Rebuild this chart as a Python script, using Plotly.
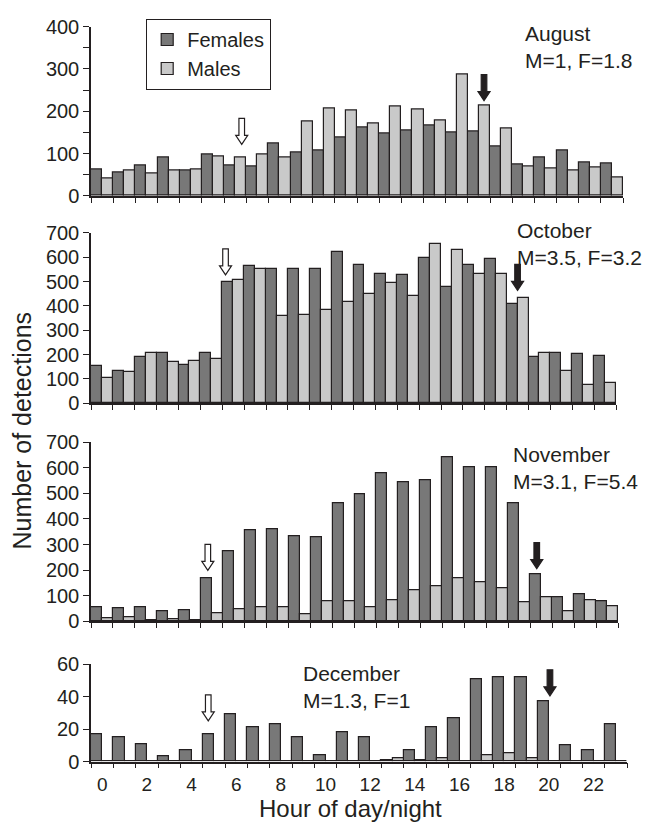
import plotly.graph_objects as go
from plotly.subplots import make_subplots

# Hourly detection counts (hour 0-23) per month
hours = list(range(24))

aug_females = [63, 55, 72, 91, 61, 97, 72, 70, 123, 103, 107, 137, 162, 148, 154, 167, 150, 152, 116, 74, 91, 107, 78, 76]
aug_males = [40, 61, 54, 59, 63, 94, 90, 97, 91, 175, 207, 202, 172, 210, 204, 179, 287, 213, 158, 70, 65, 59, 67, 44]

oct_females = [154, 131, 190, 205, 157, 205, 499, 566, 553, 553, 553, 620, 569, 530, 526, 597, 479, 570, 592, 408, 189, 205, 202, 194]
oct_males = [104, 130, 207, 171, 174, 183, 506, 553, 359, 365, 384, 415, 448, 493, 440, 653, 632, 533, 530, 432, 205, 135, 76, 83]

nov_females = [56, 51, 56, 38, 43, 167, 274, 355, 361, 331, 327, 463, 497, 577, 544, 550, 643, 602, 602, 463, 183, 93, 106, 79]
nov_males = [13, 18, 3, 8, 3, 33, 47, 54, 54, 27, 80, 80, 57, 82, 122, 137, 169, 152, 131, 75, 96, 39, 82, 60]

dec_females = [17, 15, 11, 3, 7, 17, 29, 21, 23, 15, 4, 18, 15, 1, 7, 21, 27, 51, 52, 52, 37, 10, 7, 23]
dec_males = [0, 0, 0, 0, 0, 0, 0, 0, 0, 0, 0, 0, 0, 2, 1, 2, 0, 4, 5, 2, 0, 0, 0, 0]

months = ["August", "October", "November", "December"]
month_stats = ["M=1, F=1.8", "M=3.5, F=3.2", "M=3.1, F=5.4", "M=1.3, F=1"]
females = [aug_females, oct_females, nov_females, dec_females]
males = [aug_males, oct_males, nov_males, dec_males]
y_max = [400, 700, 700, 60]
y_step = [100, 100, 100, 20]

# Sunrise (open arrow) and sunset (filled arrow): hour position and arrow tip level
sunrise_hour = [6.3, 5.65, 4.82, 4.75]
sunrise_tip = [122, 528, 199, 25]
sunset_hour = [17.23, 19.0, 19.8, 20.05]
sunset_tip = [225, 464, 206, 40.5]

x_labels = list(range(0, 24, 2))

W, H = 646, 828
FONT = "Liberation Sans, Arial, Helvetica, sans-serif"
INK = "#231f20"
DARK = "#787878"
LIGHT = "#c9c9c9"

# panel boxes in page pixels: (left, right, top, bottom)
boxes = [(91, 623, 16, 190), (91, 616, 228, 403), (91, 618, 443, 627), (91, 627, 671, 771)]

fig = make_subplots(rows=4, cols=1)

for i in range(4):
    r = i + 1
    fig.add_trace(go.Bar(x=hours, y=females[i], name="Females", legendgroup="F",
                         showlegend=(i == 0),
                         marker=dict(color=DARK, line=dict(color=INK, width=1.2))), row=r, col=1)
    fig.add_trace(go.Bar(x=hours, y=males[i], name="Males", legendgroup="M",
                         showlegend=(i == 0),
                         marker=dict(color=LIGHT, line=dict(color=INK, width=1.2))), row=r, col=1)

layout_axes = {}
for i in range(4):
    l, rr, t, b = boxes[i]
    sfx = "" if i == 0 else str(i + 1)
    bottom = (i == 3)
    layout_axes["xaxis" + sfx] = dict(
        domain=[l / W, rr / W], range=[-0.5, 23.5], showgrid=False, zeroline=False,
        showline=True, linecolor=INK, linewidth=1.5,
        tickmode="array", tickvals=x_labels, ticktext=[str(v) for v in x_labels],
        ticks="", showticklabels=bottom, ticklabelstandoff=5,
        tickfont=dict(size=19, color=INK, family=FONT),
        minor=dict(tickmode="array", tickvals=[h - 0.5 for h in range(25)],
                   ticks="outside", ticklen=5, tickwidth=1.3, tickcolor=INK, showgrid=False),
    )
    yax = dict(
        domain=[1 - b / H, 1 - t / H], range=[0, y_max[i]], showgrid=False, zeroline=False,
        showline=True, linecolor=INK, linewidth=1.5,
        tickmode="linear", tick0=0, dtick=y_step[i], ticks="outside", ticklen=6,
        tickwidth=1.3, tickcolor=INK, tickfont=dict(size=20, color=INK, family=FONT),
    )
    if i == 0:
        yax["minor"] = dict(dtick=50, ticks="outside", ticklen=6, tickwidth=1.3,
                            tickcolor=INK, showgrid=False)
    layout_axes["yaxis" + sfx] = yax

fig.update_layout(**layout_axes)


def arrow_path():
    # block arrow with its tip at the anchor, in pixels (y pointing up)
    return "M 0 0 L -6 9 L -2.8 9 L -2.8 26 L 2.8 26 L 2.8 9 L 6 9 Z"


shapes = []
annotations = []
for i in range(4):
    sfx = "" if i == 0 else str(i + 1)
    for hx, tip, fill in ((sunrise_hour[i], sunrise_tip[i], "white"),
                          (sunset_hour[i], sunset_tip[i], INK)):
        shapes.append(dict(type="path", xref="x" + sfx, yref="y" + sfx,
                           xsizemode="pixel", ysizemode="pixel",
                           xanchor=hx, yanchor=tip, path=arrow_path(),
                           fillcolor=fill, line=dict(color=INK, width=1.2)))

# month labels
label_pos = [(523, 9), (515, 212), (511, 442), (301, 667)]
for i in range(4):
    lx, ly = label_pos[i]
    annotations.append(dict(xref="paper", yref="paper", x=lx / W, y=1 - ly / H,
                            xanchor="left", yanchor="top", align="left", showarrow=False,
                            text=months[i] + "<br>" + month_stats[i],
                            font=dict(size=21, color=INK, family=FONT)))

annotations.append(dict(xref="paper", yref="paper", x=22 / W, y=1 - 431 / H,
                        xanchor="center", yanchor="middle",
                        textangle=-90, showarrow=False, text="Number of detections",
                        font=dict(size=25, color=INK, family=FONT)))
annotations.append(dict(xref="paper", yref="paper", x=350 / W, y=1 - 819 / H,
                        xanchor="center", yanchor="middle",
                        showarrow=False, text="Hour of day/night",
                        font=dict(size=24, color=INK, family=FONT)))

fig.update_layout(
    width=W, height=H, margin=dict(l=0, r=0, t=0, b=0),
    paper_bgcolor="white", plot_bgcolor="white",
    barmode="group", bargap=0, bargroupgap=0,
    font=dict(family=FONT, color=INK),
    shapes=shapes, annotations=annotations,
    legend=dict(x=146 / W, y=1 - 8 / H, xanchor="left", yanchor="top",
                bordercolor=INK, borderwidth=1.2, bgcolor="white",
                font=dict(size=20, color=INK, family=FONT), itemwidth=30,
                tracegroupgap=0),
)

fig.write_html("out.html")
